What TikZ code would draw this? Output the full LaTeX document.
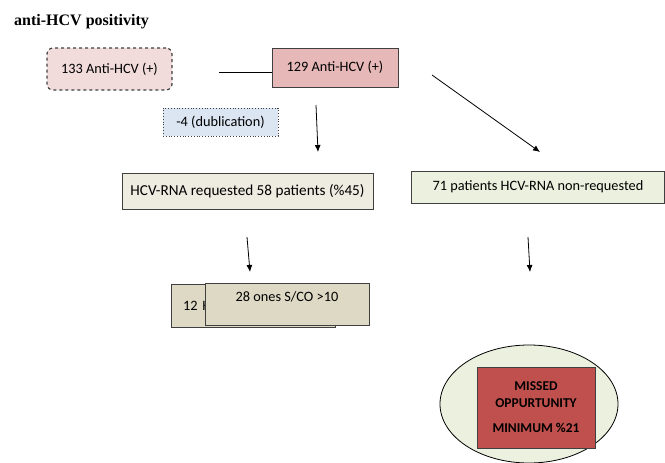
\documentclass[tikz,border=0pt]{standalone}
\usepackage{fontspec}
\setmainfont{Carlito}
\newfontfamily\titlefont{Liberation Serif}
\usetikzlibrary{arrows.meta}
\definecolor{pinkA}{HTML}{F2DCDB}
\definecolor{pinkB}{HTML}{E6B9B8}
\definecolor{blueC}{HTML}{DCE6F2}
\definecolor{beigeD}{HTML}{EEECE1}
\definecolor{greenE}{HTML}{EBF1DE}
\definecolor{tanF}{HTML}{DDD9C4}
\definecolor{redM}{HTML}{C0504D}
\definecolor{edge}{HTML}{404040}

\begin{document}
\begin{tikzpicture}[x=1pt, y=-1pt, every node/.style={font=\fontsize{14.3}{16}\selectfont},
  box/.style={draw=edge, line width=0.8pt, inner sep=0pt},
  arr/.style={-{Latex[length=7pt,width=6pt]}, line width=0.8pt}]
\useasboundingbox (0,0) rectangle (665,463);
\node[anchor=west, inner sep=0pt, font=\titlefont\bfseries\fontsize{16}{18}\selectfont] (title) at (14,22) {anti-HCV positivity};
\node[box, dashed, line width=1.2pt, rounded corners=6pt, fill=pinkA, minimum width=125, minimum height=42] (first) at (109.5,69) {133 Anti-HCV (+)};
\node[box, fill=pinkB, minimum width=126, minimum height=39] (second) at (335,67.5) {129 Anti-HCV (+)};
\node[box, dotted, fill=blueC, minimum width=115, minimum height=28] (dup) at (220.5,122) {-4 (dublication)};
\node[box, fill=beigeD, minimum width=251, minimum height=36, font=\fontsize{15.2}{17}\selectfont] (req) at (247.5,191) {HCV-RNA requested 58 patients (\%45)};
\node[box, fill=greenE, minimum width=253, minimum height=32] (nonreq) at (538,187) {71 patients HCV-RNA non-requested};
\node[box, fill=tanF, minimum width=164, minimum height=43, text width=140, inner xsep=12, align=left] (low) at (253,305.5) {12 H};
\node[box, fill=tanF, minimum width=164, minimum height=42, text depth=14pt] (high) at (287,304) {28 ones S/CO >10};
\draw[draw=black, line width=0.8pt, fill=greenE] (529,404) ellipse (89 and 59);
\node[box, fill=redM, minimum width=118, minimum height=81, align=center, font=\bfseries\fontsize{13.5}{17}\selectfont] (missed) at (536,407.5) {MISSED\\OPPURTUNITY\\[8pt]MINIMUM \%21};
\coordinate (l1) at (219,72);
\draw[line width=0.8pt] (l1) -- (l1 -| second.west);
\coordinate (s1) at (316,105);
\coordinate (e1) at (318,152);
\coordinate (s2) at (432,75);
\coordinate (e2) at (540,152);
\coordinate (s3) at (247,237);
\coordinate (e3) at (250,272);
\coordinate (s4) at (528,237);
\coordinate (e4) at (530,272);
\draw[arr] (s1) -- (e1);
\draw[arr] (s2) -- (e2);
\draw[arr] (s3) -- (e3);
\draw[arr] (s4) -- (e4);
\end{tikzpicture}
\end{document}
